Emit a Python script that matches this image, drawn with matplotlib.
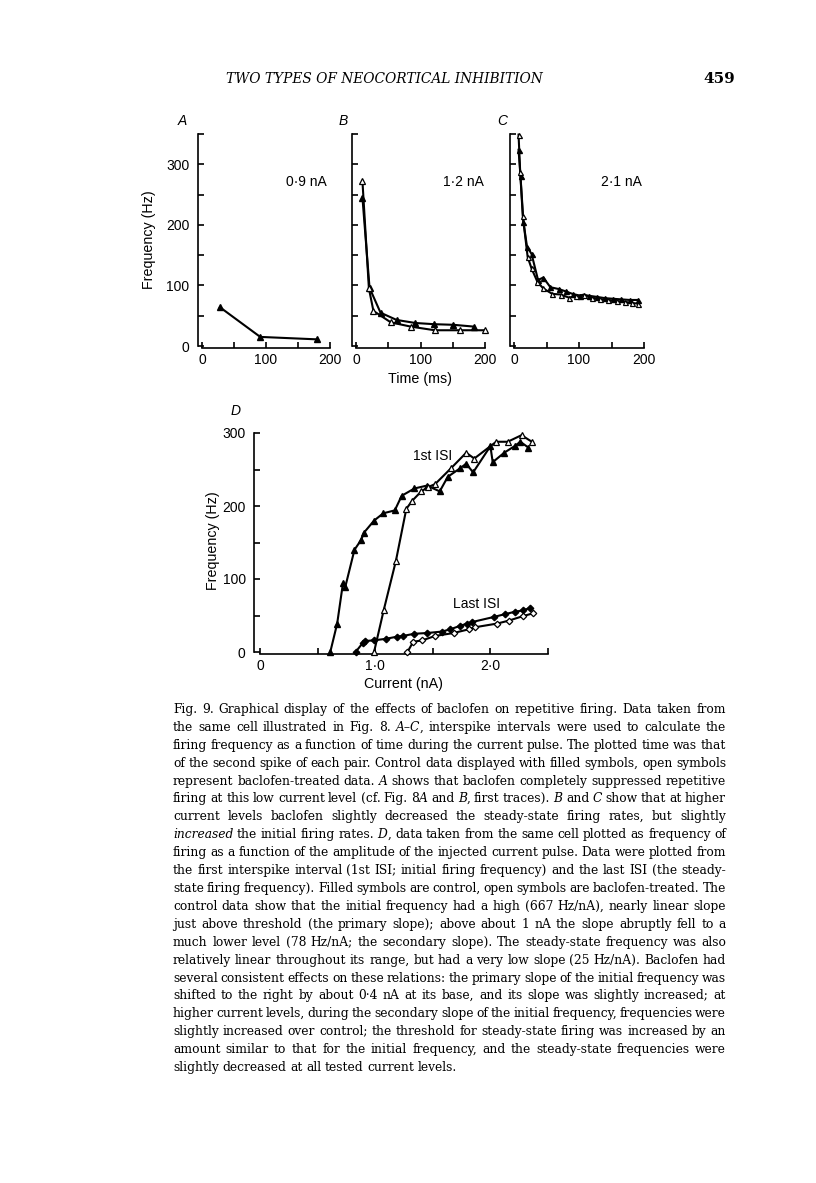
import math
import re
import matplotlib
matplotlib.use("Agg")
import matplotlib.pyplot as plt

W, H = 816, 1183

# ---- panels A-C: firing frequency vs time (ms) ----
a_t_ctl = [28, 91, 179]
a_f_ctl = [64, 15, 11]

b_t_ctl = [10, 21, 38, 63, 92, 121, 151, 183]
b_f_ctl = [245, 96, 55, 43, 38, 36, 35, 32]
b_t_bac = [10, 20, 27, 54, 85, 122, 161, 200]
b_f_bac = [272, 95, 58, 39, 32, 26, 26, 26]

c_t_ctl = [7, 10, 14.5, 20, 27, 37, 45, 56, 69, 80, 90, 102, 115, 128, 140, 152, 165, 178, 190]
c_f_ctl = [324, 280, 205, 164, 152, 109, 113, 97, 94, 90, 86, 83, 83, 81, 79, 78, 77, 76, 76]
c_t_bac = [7, 9.5, 13.5, 21, 27, 36, 45, 59, 72, 84, 96, 108, 120, 132, 145, 158, 170, 182, 190]
c_f_bac = [349, 288, 215, 147, 128, 106, 95, 86, 85, 80, 82, 85, 80, 77, 76, 74, 73, 71, 70]

# ---- panel D: frequency vs current (nA) ----
first_i_ctl = [0.61, 0.67, 0.72, 0.74, 0.82, 0.88, 0.90, 0.99, 1.07, 1.17, 1.23, 1.34,
               1.45, 1.56, 1.63, 1.74, 1.79, 1.85, 2.00, 2.02, 2.12, 2.21, 2.26, 2.33]
first_f_ctl = [0, 39, 94, 89, 140, 154, 163, 180, 190, 194, 214, 224,
               228, 220, 240, 252, 258, 246, 282, 260, 273, 282, 288, 280]
first_i_bac = [0.99, 1.075, 1.18, 1.27, 1.32, 1.40, 1.46, 1.52, 1.66, 1.79, 1.86, 2.05, 2.15, 2.27, 2.36]
first_f_bac = [0, 58, 125, 196, 207, 220, 226, 230, 252, 273, 265, 288, 288, 297, 288]

last_i_ctl = [0.83, 0.89, 0.91, 0.99, 1.09, 1.19, 1.24, 1.34, 1.45, 1.58, 1.65, 1.74,
              1.80, 1.84, 2.03, 2.13, 2.21, 2.28, 2.34]
last_f_ctl = [0, 12, 15, 16, 18, 21, 22, 25, 26, 28, 31, 36, 39, 41, 48, 52, 55, 57, 60]
last_i_bac = [1.28, 1.33, 1.41, 1.52, 1.68, 1.81, 1.87, 2.06, 2.16, 2.28, 2.37]
last_f_bac = [0, 14, 16, 22, 26, 31, 34, 39, 43, 49, 53]

header = "TWO TYPES OF NEOCORTICAL INHIBITION"
page_no = "459"

caption = [
    "Fig. 9. Graphical display of the effects of baclofen on repetitive firing. Data taken from",
    "the same cell illustrated in Fig. 8. *A–C*, interspike intervals were used to calculate the",
    "firing frequency as a function of time during the current pulse. The plotted time was that",
    "of the second spike of each pair. Control data displayed with filled symbols, open symbols",
    "represent baclofen-treated data. *A* shows that baclofen completely suppressed repetitive",
    "firing at this low current level (cf. Fig. 8*A* and *B*, first traces). *B* and *C* show that at higher",
    "current levels baclofen slightly decreased the steady-state firing rates, but slightly",
    "*increased* the initial firing rates. *D*, data taken from the same cell plotted as frequency of",
    "firing as a function of the amplitude of the injected current pulse. Data were plotted from",
    "the first interspike interval (1st ISI; initial firing frequency) and the last ISI (the steady-",
    "state firing frequency). Filled symbols are control, open symbols are baclofen-treated. The",
    "control data show that the initial frequency had a high (667 Hz/nA), nearly linear slope",
    "just above threshold (the primary slope); above about 1 nA the slope abruptly fell to a",
    "much lower level (78 Hz/nA; the secondary slope). The steady-state frequency was also",
    "relatively linear throughout its range, but had a very low slope (25 Hz/nA). Baclofen had",
    "several consistent effects on these relations: the primary slope of the initial frequency was",
    "shifted to the right by about 0·4 nA at its base, and its slope was slightly increased; at",
    "higher current levels, during the secondary slope of the initial frequency, frequencies were",
    "slightly increased over control; the threshold for steady-state firing was increased by an",
    "amount similar to that for the initial frequency, and the steady-state frequencies were",
    "slightly decreased at all tested current levels.",
]

SANS = ["Liberation Sans", "DejaVu Sans"]
SERIF = ["DejaVu Serif"]
plt.rcParams["font.family"] = SANS
plt.rcParams["axes.linewidth"] = 1.2
FS = 10

fig = plt.figure(figsize=(W / 100, H / 100), dpi=100)
fig.patch.set_facecolor("white")
renderer = fig.canvas.get_renderer()


def px_axes(left, top, width, height):
    return fig.add_axes([left / W, 1 - (top + height) / H, width / W, height / H])


def fx(x):
    return x / W


def fy(y):
    return 1 - y / H


def style_axes(ax, xmax, ymax, xticks, xlabels, yticks, ylabels, off_left):
    for s in ("top", "right"):
        ax.spines[s].set_visible(False)
    ax.spines["left"].set_position(("outward", off_left))
    ax.spines["bottom"].set_position(("outward", 1.2))
    ax.spines["left"].set_bounds(0, ymax)
    ax.spines["bottom"].set_bounds(0, xmax)
    ax.set_xlim(0, xmax)
    ax.set_ylim(0, ymax)
    ax.set_xticks(xticks)
    ax.set_xticklabels(xlabels)
    ax.set_yticks(yticks)
    ax.set_yticklabels(ylabels)
    ax.tick_params(direction="in", length=4, width=1.2, labelsize=FS, pad=4)
    ax.tick_params(axis="y", pad=6)
    ax.patch.set_alpha(0)


def draw_pair(ax, xc, yc, xb=None, yb=None, marker="^", ms=4.2):
    ax.plot(xc, yc, color="black", lw=1.5, marker=marker, ms=ms,
            mfc="black", mec="black", clip_on=False, zorder=3)
    if xb is not None:
        ax.plot(xb, yb, color="black", lw=1.5, marker=marker, ms=ms,
                mfc="white", mec="black", mew=0.9, clip_on=False, zorder=4)


t_ticks = [0, 50, 100, 150, 200]
t_labels = ["0", "", "100", "", "200"]
f_ticks = [0, 50, 100, 150, 200, 250, 300, 350]
f_labels = ["0", "", "100", "", "200", "", "300", ""]

ax_a = px_axes(202, 134, 128, 212)
style_axes(ax_a, 200, 350, t_ticks, t_labels, f_ticks, f_labels, 3)
draw_pair(ax_a, a_t_ctl, a_f_ctl)
ax_a.set_ylabel("Frequency (Hz)", fontsize=10.3)
ax_a.yaxis.set_label_coords(-0.36, 0.5)
ax_a.text(163, 270, "0·9 nA", fontsize=FS, ha="center", va="center")

ax_b = px_axes(356, 134, 129, 212)
style_axes(ax_b, 200, 350, t_ticks, t_labels, f_ticks, [""] * 8, 3)
draw_pair(ax_b, b_t_ctl, b_f_ctl, b_t_bac, b_f_bac)
ax_b.text(166, 270, "1·2 nA", fontsize=FS, ha="center", va="center")

ax_c = px_axes(514, 134, 130, 212)
style_axes(ax_c, 200, 350, t_ticks, t_labels, f_ticks, [""] * 8, 3)
draw_pair(ax_c, c_t_ctl, c_f_ctl, c_t_bac, c_f_bac, ms=3.6)
ax_c.text(166, 270, "2·1 nA", fontsize=FS, ha="center", va="center")

for lab, x in (("A", 182), ("B", 343), ("C", 502)):
    fig.text(fx(x), fy(121), lab, fontsize=FS, style="italic", ha="center", va="center")
fig.text(fx(420), fy(379), "Time (ms)", fontsize=10.3, ha="center", va="center")

ax_d = px_axes(260, 433, 288, 219)
style_axes(ax_d, 2.5, 300, [0, 0.5, 1.0, 1.5, 2.0, 2.5], ["0", "", "1·0", "", "2·0", ""],
           [0, 50, 100, 150, 200, 250, 300], ["0", "", "100", "", "200", "", "300"], 4.3)
draw_pair(ax_d, first_i_ctl, first_f_ctl, first_i_bac, first_f_bac, ms=3.8)
draw_pair(ax_d, last_i_ctl, last_f_ctl, last_i_bac, last_f_bac, marker="D", ms=3.3)
ax_d.set_xlabel("Current (nA)", fontsize=10.3, labelpad=3)
ax_d.set_ylabel("Frequency (Hz)", fontsize=10.3)
ax_d.yaxis.set_label_coords(-0.14, 0.51)
ax_d.text(1.5, 268, "1st ISI", fontsize=FS, ha="center", va="center")
ax_d.text(1.88, 66, "Last ISI", fontsize=FS, ha="center", va="center")
fig.text(fx(236), fy(411), "D", fontsize=FS, style="italic", ha="center", va="center")


def text_width(s, size, family, style="normal"):
    t = fig.text(0, 0, s, fontsize=size, family=family, style=style)
    w = t.get_window_extent(renderer).width
    t.remove()
    return w


# ---- running head ----
hsize = 11 * 318 / text_width(header, 11, SERIF, "italic")
fig.text(fx(384), fy(79), header, fontsize=hsize, family=SERIF, style="italic",
         ha="center", va="center")
fig.text(fx(735), fy(79), page_no, fontsize=11, family=SERIF, weight="bold",
         ha="right", va="center")

# ---- justified caption ----
X0, X1 = 173, 726
Y0, DY = 713, 17.9


def split_segments(word):
    segs = []
    for part in re.split(r"(\*[^*]*\*)", word):
        if not part:
            continue
        if part.startswith("*"):
            segs.append((part.strip("*"), "italic"))
        else:
            segs.append((part, "normal"))
    return segs


def measure(size):
    out = []
    for line in caption:
        words = []
        for w in line.split(" "):
            words.append([(s, st, text_width(s, size, SERIF, st)) for s, st in split_segments(w)])
        out.append(words)
    return out


def word_row(s, prop, row):
    # Agg places each word's bitmap using its own (fractional) bbox; choose the
    # baseline so that the glyphs of every word land on the same pixel row
    _, h, d = renderer.get_text_width_height_descent(s, prop, ismath=False)
    a = round((h - d) * 64) / 64
    return row - math.floor(a + 1e-9) + math.floor(a + d + 1e-9) - d


size = 9.0
for _ in range(3):
    meas = measure(size)
    space = 0.3 * size * 100 / 72
    need = max(sum(sum(s[2] for s in w) for w in words) + 0.8 * space * (len(words) - 1)
               for words in meas)
    size *= (X1 - X0) / need
meas = measure(size)
space = 0.3 * size * 100 / 72

for i, words in enumerate(meas):
    wsum = sum(sum(s[2] for s in w) for w in words)
    last = i == len(meas) - 1
    gap = space if last else (X1 - X0 - wsum) / (len(words) - 1)
    x = X0
    row = round(Y0 + i * DY)
    for w in words:
        for s, st, wd in w:
            t = fig.text(fx(x), fy(row), s, fontsize=size, family=SERIF, style=st,
                         ha="left", va="baseline")
            t.set_y(fy(word_row(s, t.get_fontproperties(), row)))
            x += wd
        x += gap

fig.savefig("out.png", dpi=100, facecolor="white")
